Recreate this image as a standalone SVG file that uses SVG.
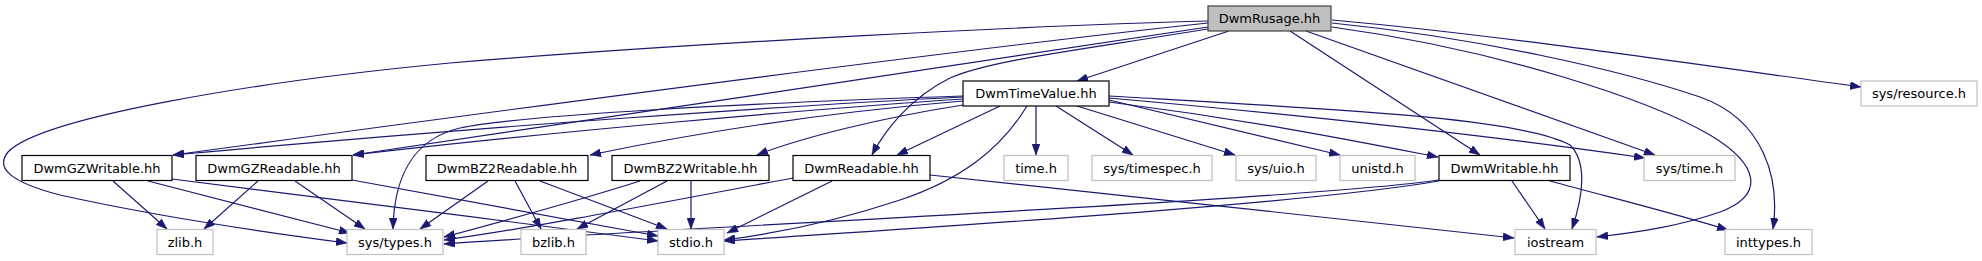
<svg xmlns="http://www.w3.org/2000/svg" width="1982" height="261" viewBox="0 0 1982 261">
<style>
  .n rect { fill: #ffffff; stroke: #000000; stroke-width: 1.2; }
  .root rect { fill: #bfbfbf; stroke: #404040; stroke-width: 1.2; }
  .ext rect { fill: #ffffff; stroke: #bfbfbf; stroke-width: 1.2; }
  text { font-family: "DejaVu Sans", "Liberation Sans", sans-serif; font-size: 13px; fill: #000000; text-anchor: middle; }
  .edges path { fill: none; stroke: #191970; stroke-width: 1.2; marker-end: url(#ah); }
</style>
<defs>
  <marker id="ah" viewBox="0 0 11 8" refX="11" refY="4" markerWidth="11" markerHeight="8" markerUnits="userSpaceOnUse" orient="auto">
    <path d="M0,0 L11,4 L0,8 z" fill="#191970" stroke="#191970" stroke-width="0.5"/>
  </marker>
</defs>
<rect width="1982" height="261" fill="#ffffff"/>
<g class="edges" id="edges">
  <!-- from DwmRusage.hh -->
  <path d="M1229,31 L1077,81"/>
  <path d="M1208,23 C1000,45 600,97 173,155"/>
  <path d="M1208,27 C1000,57 600,120 353,155"/>
  <path d="M1208,29 C1080,50 990,60 950,78 C910,98 885,130 872,155"/>
  <path d="M1290,31 L1480,155"/>
  <path d="M1208,21 C1050,25 700,42 450,63 C250,82 40,118 8,152 C-5,168 10,182 60,195 C150,215 270,233 347,243"/>
  <path d="M1306,31 L1655,155"/>
  <path d="M1332,27 C1500,50 1650,100 1710,135 C1760,165 1765,195 1720,212 C1680,226 1640,232 1597,237"/>
  <path d="M1332,23 C1480,38 1620,70 1700,97 C1765,120 1780,180 1773,229"/>
  <path d="M1332,20 C1500,35 1700,65 1861,87"/>
  <!-- from DwmTimeValue.hh -->
  <path d="M963,97 C800,105 500,125 173,155"/>
  <path d="M963,99 C800,110 550,132 353,155"/>
  <path d="M963,101 C820,113 700,132 590,155"/>
  <path d="M963,105 C880,118 800,138 757,155"/>
  <path d="M1000,106 L897,155"/>
  <path d="M1036,106 L1036,155"/>
  <path d="M1056,106 L1133,155"/>
  <path d="M1077,106 L1235,155"/>
  <path d="M1109,100 L1340,155"/>
  <path d="M1109,102 C1250,120 1350,140 1438,157"/>
  <path d="M1109,98 C1300,115 1500,137 1645,158"/>
  <path d="M963,96 C750,103 520,115 460,128 C410,140 394,180 393,229"/>
  <path d="M1027,106 C1000,150 960,180 900,200 C840,220 780,233 724,240"/>
  <path d="M1109,96 C1350,110 1520,118 1570,145 C1590,165 1580,205 1572,229"/>
  <!-- from DwmGZWritable.hh -->
  <path d="M113,181 L167,229"/>
  <path d="M148,181 L350,233"/>
  <path d="M172,179 C300,195 500,220 658,241"/>
  <!-- from DwmGZReadable.hh -->
  <path d="M258,181 L204,229"/>
  <path d="M295,181 L365,229"/>
  <path d="M352,180 L658,236"/>
  <!-- from DwmBZ2Readable.hh -->
  <path d="M488,181 L420,229"/>
  <path d="M515,181 L541,229"/>
  <path d="M540,181 L667,229"/>
  <!-- from DwmBZ2Writable.hh -->
  <path d="M640,181 C580,200 500,222 444,237"/>
  <path d="M667,181 L577,229"/>
  <path d="M691,181 L691,229"/>
  <!-- from DwmReadable.hh -->
  <path d="M793,178 C650,205 520,230 444,240"/>
  <path d="M832,181 L727,233"/>
  <path d="M930,175 C1100,193 1350,220 1514,238"/>
  <!-- from DwmWritable.hh -->
  <path d="M1439,180 C1300,200 700,226 444,244"/>
  <path d="M1439,181 C1300,205 900,229 724,241"/>
  <path d="M1512,181 L1545,229"/>
  <path d="M1550,181 C1620,200 1680,215 1728,230"/>
</g>
<g id="node-DwmRusage" class="root"><rect x="1208" y="6" width="123" height="25"/><text x="1269.5" y="23">DwmRusage.hh</text></g>
<g id="node-DwmTimeValue" class="n"><rect x="963" y="81" width="146" height="25"/><text x="1036" y="98">DwmTimeValue.hh</text></g>
<g id="node-sys-resource" class="ext"><rect x="1861" y="81" width="116" height="25"/><text x="1919" y="98">sys/resource.h</text></g>
<g id="node-DwmGZWritable" class="n"><rect x="22" y="155.5" width="150" height="25"/><text x="97" y="172.5">DwmGZWritable.hh</text></g>
<g id="node-DwmGZReadable" class="n"><rect x="196" y="155.5" width="156" height="25"/><text x="274" y="172.5">DwmGZReadable.hh</text></g>
<g id="node-DwmBZ2Readable" class="n"><rect x="426" y="155.5" width="162" height="25"/><text x="507" y="172.5">DwmBZ2Readable.hh</text></g>
<g id="node-DwmBZ2Writable" class="n"><rect x="612" y="155.5" width="157" height="25"/><text x="690.5" y="172.5">DwmBZ2Writable.hh</text></g>
<g id="node-DwmReadable" class="n"><rect x="793" y="155.5" width="137" height="25"/><text x="861.5" y="172.5">DwmReadable.hh</text></g>
<g id="node-time" class="ext"><rect x="1004" y="155.5" width="64" height="25"/><text x="1036" y="172.5">time.h</text></g>
<g id="node-sys-timespec" class="ext"><rect x="1092" y="155.5" width="120" height="25"/><text x="1152" y="172.5">sys/timespec.h</text></g>
<g id="node-sys-uio" class="ext"><rect x="1236" y="155.5" width="80" height="25"/><text x="1276" y="172.5">sys/uio.h</text></g>
<g id="node-unistd" class="ext"><rect x="1340" y="155.5" width="75" height="25"/><text x="1377.5" y="172.5">unistd.h</text></g>
<g id="node-DwmWritable" class="n"><rect x="1439" y="155.5" width="131" height="25"/><text x="1504.5" y="172.5">DwmWritable.hh</text></g>
<g id="node-sys-time" class="ext"><rect x="1644" y="155.5" width="91" height="25"/><text x="1689.5" y="172.5">sys/time.h</text></g>
<g id="node-zlib" class="ext"><rect x="157" y="229.5" width="56" height="25"/><text x="185" y="246.5">zlib.h</text></g>
<g id="node-sys-types" class="ext"><rect x="347" y="229.5" width="96" height="25"/><text x="395" y="246.5">sys/types.h</text></g>
<g id="node-bzlib" class="ext"><rect x="521" y="229.5" width="65" height="25"/><text x="553.5" y="246.5">bzlib.h</text></g>
<g id="node-stdio" class="ext"><rect x="658" y="229.5" width="66" height="25"/><text x="691" y="246.5">stdio.h</text></g>
<g id="node-iostream" class="ext"><rect x="1515" y="229.5" width="81" height="25"/><text x="1555.5" y="246.5">iostream</text></g>
<g id="node-inttypes" class="ext"><rect x="1725" y="229.5" width="87" height="25"/><text x="1768.5" y="246.5">inttypes.h</text></g>
</svg>
